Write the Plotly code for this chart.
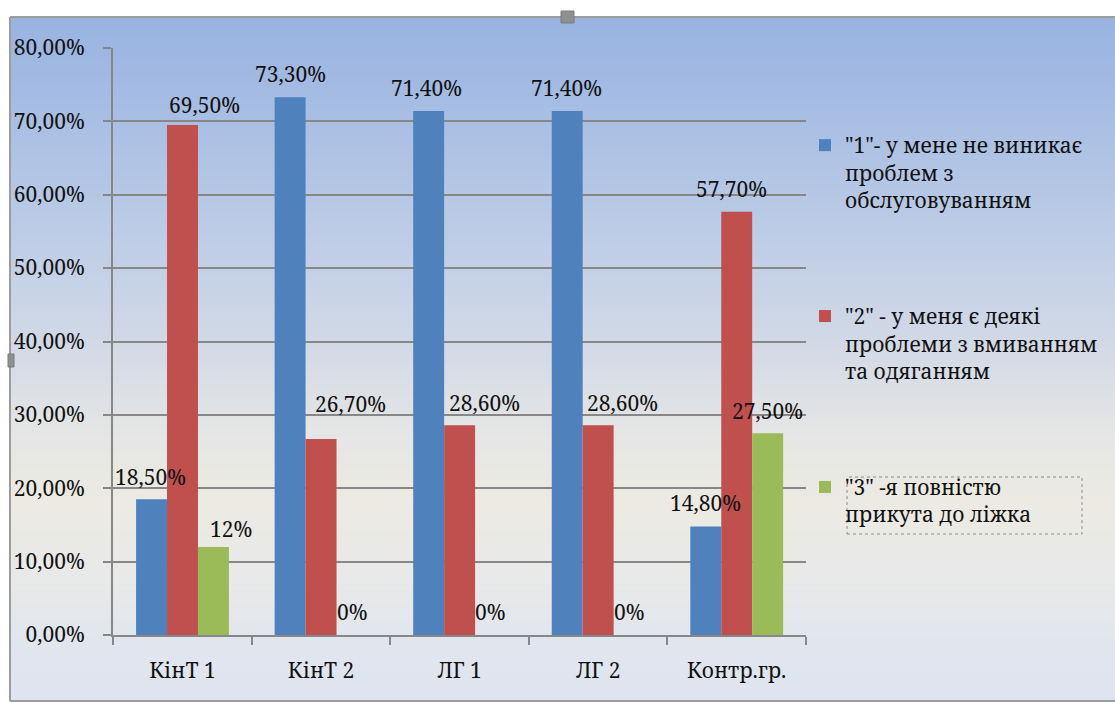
import plotly.graph_objects as go

# ---- data ----
categories = ["КінТ 1", "КінТ 2", "ЛГ 1", "ЛГ 2", "Контр.гр."]
series_names = [
    "\"1\"- у мене не виникає<br>проблем з<br>обслуговуванням",
    "\"2\" - у меня є деякі<br>проблеми з вмиванням<br>та одяганням",
    "\"3\" -я повністю<br>прикута до ліжка",
]
s1_values = [0.185, 0.733, 0.714, 0.714, 0.148]
s2_values = [0.695, 0.267, 0.286, 0.286, 0.577]
s3_values = [0.12, 0.0, 0.0, 0.0, 0.275]
s1_labels = ["18,50%", "73,30%", "71,40%", "71,40%", "14,80%"]
s2_labels = ["69,50%", "26,70%", "28,60%", "28,60%", "57,70%"]
s3_labels = ["12%", "0%", "0%", "0%", "27,50%"]
colors = ["#4f81bd", "#c0504d", "#9bbb59"]

# ---- layout geometry (pixels) ----
W, H = 1115, 702
PL, PR, PT, PB = 113, 806, 48, 635
pw, ph = PR - PL, PB - PT


def px_x(px):
    return (px - PL) / pw


def px_y(py):
    return (PB - py) / ph


FONT = "Noto Serif, Liberation Serif, serif"
FS = 21

fig = go.Figure()
values = [s1_values, s2_values, s3_values]
labels = [s1_labels, s2_labels, s3_labels]
for i in range(3):
    fig.add_trace(go.Bar(
        x=categories, y=values[i], name=series_names[i],
        marker=dict(color=colors[i], line=dict(width=0)),
        legendgroup=f"g{i}", hoverinfo="skip",
    ))

# label nudges (manual placement as in the reference)
extra_x = [[-1, 0, -2, -1, 0], [22, 29, 25, 24, -5], [17, 0, 0, 0, 0]]
extra_y = [[22, 23, 23, 23, 23], [20, 35, 22, 22, 23], [18, 23, 23, 23, 22]]
bar_w = 31
for i in range(3):
    for j, c in enumerate(categories):
        fig.add_annotation(
            x=c, y=values[i][j], text=labels[i][j], showarrow=False,
            xshift=(i - 1) * bar_w + extra_x[i][j], yshift=extra_y[i][j],
            yanchor="middle", xanchor="center",
            font=dict(family=FONT, size=FS, color="#111111"),
        )

# background gradient strips
stops = [
    (17, (153, 179, 225)), (100, (165, 188, 227)), (250, (192, 206, 230)),
    (350, (211, 218, 230)), (430, (228, 229, 229)), (500, (236, 234, 226)),
    (580, (232, 233, 233)), (640, (225, 230, 238)), (701, (222, 228, 240)),
]


def col_at(py):
    for k in range(len(stops) - 1):
        y0, c0 = stops[k]
        y1, c1 = stops[k + 1]
        if y0 <= py <= y1:
            t = (py - y0) / (y1 - y0)
            return "rgb(%d,%d,%d)" % tuple(round(c0[m] + (c1[m] - c0[m]) * t) for m in range(3))
    return "rgb(%d,%d,%d)" % stops[-1][1]


shapes = []
y = 17
step = 3
while y < 701:
    y2 = min(y + step, 701)
    shapes.append(dict(type="rect", xref="paper", yref="paper",
                       x0=px_x(10), x1=px_x(W + 5), y0=px_y(y2 + 0.5), y1=px_y(y),
                       fillcolor=col_at(y + step / 2), line=dict(width=0), layer="below"))
    y = y2

# frame lines
border = "#9c9c9c"
shapes += [
    dict(type="line", xref="paper", yref="paper", x0=px_x(10), x1=px_x(W + 5),
         y0=px_y(17), y1=px_y(17), line=dict(color=border, width=2), layer="above"),
    dict(type="line", xref="paper", yref="paper", x0=px_x(10), x1=px_x(10),
         y0=px_y(17), y1=px_y(701), line=dict(color=border, width=2), layer="above"),
    dict(type="line", xref="paper", yref="paper", x0=px_x(10), x1=px_x(W + 5),
         y0=px_y(701), y1=px_y(701), line=dict(color=border, width=2), layer="above"),
    # selection handles
    dict(type="rect", xref="paper", yref="paper", x0=px_x(561), x1=px_x(574),
         y0=px_y(23), y1=px_y(11), fillcolor="#909090", line=dict(color="#7a7a7a", width=1)),
    dict(type="rect", xref="paper", yref="paper", x0=px_x(8), x1=px_x(14),
         y0=px_y(367), y1=px_y(354), fillcolor="#909090", line=dict(color="#7a7a7a", width=1)),
    # dotted text box around third legend entry
    dict(type="rect", xref="paper", yref="paper", x0=px_x(847), x1=px_x(1082),
         y0=px_y(534), y1=px_y(477), line=dict(color="#8a8a8a", width=1, dash="dot")),
]

fig.update_layout(
    width=W, height=H,
    margin=dict(l=PL, r=W - PR, t=PT, b=H - PB, pad=0),
    paper_bgcolor="white", plot_bgcolor="rgba(0,0,0,0)",
    barmode="group", bargap=0.33, bargroupgap=0,
    separators=", ",
    font=dict(family=FONT, size=FS, color="#111111"),
    shapes=shapes,
    showlegend=True,
    legend=dict(
        x=px_x(805), y=px_y(125), xanchor="left", yanchor="top",
        bgcolor="rgba(0,0,0,0)", font=dict(family=FONT, size=FS, color="#111111"),
        traceorder="grouped", tracegroupgap=86, valign="top",
        itemwidth=30,
    ),
    xaxis=dict(
        showgrid=False, showline=True, linecolor="#878787", linewidth=2,
        ticks="outside", tickson="boundaries", ticklen=8, tickcolor="#878787", tickwidth=2,
        ticklabelstandoff=16, tickfont=dict(family=FONT, size=FS, color="#111111"),
        fixedrange=True,
    ),
    yaxis=dict(
        range=[0, 0.8], dtick=0.1, tick0=0, tickformat=".2%",
        showgrid=True, gridcolor="#878787", gridwidth=2,
        showline=True, linecolor="#878787", linewidth=2,
        ticks="outside", ticklen=8, tickcolor="#878787", tickwidth=2,
        ticklabelstandoff=14, tickfont=dict(family=FONT, size=FS, color="#111111"),
        zeroline=False, fixedrange=True,
    ),
)

fig.write_html("out.html")
